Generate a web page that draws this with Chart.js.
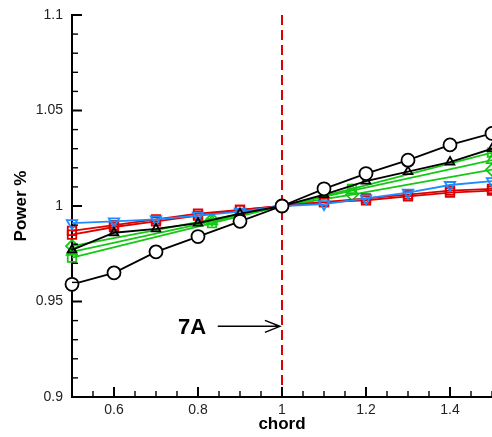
<!DOCTYPE html>
<html>
<head>
<meta charset="utf-8">
<script src="https://cdn.jsdelivr.net/npm/chart.js@4/dist/chart.umd.min.js"></script>
<style>
    body { margin: 0; background: #fff; }
    canvas { display: block; }
</style>
</head>
<body>
<canvas id="chart" width="492" height="437"></canvas>
<script>
const chordX = [0.5, 0.6, 0.7, 0.8, 0.9, 1.0, 1.1, 1.2, 1.3, 1.4, 1.5];
const circleSeries = [0.959, 0.965, 0.976, 0.984, 0.992, 1.0, 1.009, 1.017, 1.024, 1.032, 1.038];
const triangleSeries = [0.977, 0.986, 0.988, 0.991, 0.996, 1.0, 1.006, 1.013, 1.018, 1.023, 1.030];
const blueSeries = [0.991, 0.992, 0.993, 0.995, 0.997, 1.0, 1.001, 1.004, 1.007, 1.011, 1.013];
const redSeriesA = [0.987, 0.990, 0.993, 0.996, 0.998, 1.0, 1.002, 1.003, 1.005, 1.007, 1.008];
const redSeriesB = [0.985, 0.989, 0.992, 0.995, 0.998, 1.0, 1.002, 1.004, 1.006, 1.008, 1.009];

const greenX = [0.5, 0.8333, 1.0, 1.1667, 1.5];
const greenDiamond = [0.979, 0.993, 1.0, 1.006, 1.019];
const greenTriangle = [0.976, 0.992, 1.0, 1.008, 1.024];
const greenSquare = [0.973, 0.991, 1.0, 1.009, 1.028];

const xTicks = [0.6, 0.8, 1, 1.2, 1.4];
const yTicks = [0.9, 0.95, 1, 1.05, 1.1];

const markLineX = 1;
const noteText = "7A";
const noteX = 0.786;
const noteY = 0.937;
const arrowFromX = 0.847;
const arrowToX = 0.995;

const FONT = "'Liberation Sans', Arial, sans-serif";

function pairs(xs, ys) {
    return xs.map((x, i) => ({ x: x, y: ys[i] }));
}

function series(xs, ys, color, style, extra) {
    return Object.assign({
        data: pairs(xs, ys),
        borderColor: color,
        borderWidth: 1.8,
        pointStyle: style,
        pointRadius: 6,
        pointBorderColor: color,
        pointBorderWidth: 1.8,
        pointBackgroundColor: "rgba(0,0,0,0)",
        clip: false
    }, extra || {});
}

const green = "#14c814";
const greenMarks = ctx => (ctx.raw && ctx.raw.x === 1 ? 0 : 6);

// inward ticks, dashed marker line and the 7A arrow
const decorations = {
    id: "decorations",
    beforeDatasetsDraw(chart) {
        const ctx = chart.ctx;
        const area = chart.chartArea;
        const px = chart.scales.x.getPixelForValue(markLineX);
        ctx.save();
        ctx.strokeStyle = "#dd0000";
        ctx.lineWidth = 2;
        ctx.setLineDash([10, 5]);
        ctx.beginPath();
        ctx.moveTo(px, area.top);
        ctx.lineTo(px, area.bottom);
        ctx.stroke();
        ctx.restore();
    },
    afterDraw(chart) {
        const ctx = chart.ctx;
        const xs = chart.scales.x;
        const ys = chart.scales.y;
        const area = chart.chartArea;
        ctx.save();
        ctx.strokeStyle = "#000";

        for (let i = 0; i <= 20; i++) {
            const py = ys.getPixelForValue(0.9 + i * 0.01);
            const major = i % 5 === 0;
            ctx.lineWidth = major ? 2 : 1.4;
            ctx.beginPath();
            ctx.moveTo(area.left, py);
            ctx.lineTo(area.left + (major ? 10 : 6), py);
            ctx.stroke();
        }
        for (let i = 0; i <= 20; i++) {
            const px = xs.getPixelForValue(0.5 + i * 0.05);
            const major = (i - 2) % 4 === 0;
            ctx.lineWidth = major ? 2 : 1.4;
            ctx.beginPath();
            ctx.moveTo(px, area.bottom);
            ctx.lineTo(px, area.bottom - (major ? 10 : 6));
            ctx.stroke();
        }

        const ay = ys.getPixelForValue(noteY);
        const ax0 = xs.getPixelForValue(arrowFromX);
        const ax1 = xs.getPixelForValue(arrowToX);
        ctx.lineWidth = 1.5;
        ctx.beginPath();
        ctx.moveTo(ax0, ay);
        ctx.lineTo(ax1, ay);
        ctx.moveTo(ax1 - 15, ay - 6);
        ctx.lineTo(ax1, ay);
        ctx.lineTo(ax1 - 15, ay + 6);
        ctx.stroke();

        ctx.fillStyle = "#000";
        ctx.font = "bold 22px " + FONT;
        ctx.textAlign = "center";
        ctx.textBaseline = "middle";
        ctx.fillText(noteText, xs.getPixelForValue(noteX), ay + 2);
        ctx.restore();
    }
};

new Chart(document.getElementById("chart").getContext("2d"), {
    type: "line",
    data: {
        datasets: [
            series(chordX, circleSeries, "#000", "circle", { pointRadius: 6.5, pointBackgroundColor: "#fff", order: 0 }),
            series(chordX, triangleSeries, "#000", "triangle", { pointRadius: 5, order: 1 }),
            series(chordX, blueSeries, "#1e8cff", "triangle", { pointRadius: 6, pointRotation: 180, order: 2 }),
            series(chordX, redSeriesA, "#dd0000", "rect", { order: 3 }),
            series(chordX, redSeriesB, "#dd0000", "rect", { order: 4 }),
            series(greenX, greenDiamond, green, "rectRot", { pointRadius: greenMarks, order: 5 }),
            series(greenX, greenTriangle, green, "triangle", { pointRadius: greenMarks, order: 6 }),
            series(greenX, greenSquare, green, "rect", { pointRadius: greenMarks, order: 7 })
        ]
    },
    options: {
        responsive: false,
        animation: false,
        layout: { autoPadding: false, padding: { top: 15, right: 0, left: 0, bottom: 0 } },
        plugins: {
            legend: { display: false },
            tooltip: { enabled: false }
        },
        scales: {
            x: {
                type: "linear",
                min: 0.5,
                max: 1.5,
                afterBuildTicks: s => { s.ticks = xTicks.map(v => ({ value: v })); },
                afterFit: s => {
                    s.height = 40;
                    s.paddingLeft = 0;
                    s.paddingRight = 0;
                },
                grid: { display: false, drawTicks: false },
                border: { display: true, color: "#000", width: 2 },
                ticks: {
                    padding: 5,
                    color: "#222",
                    font: { family: FONT, size: 14 },
                    callback: v => String(v)
                },
                title: {
                    display: true,
                    text: "chord",
                    color: "#000",
                    padding: { top: 0, bottom: 2 },
                    font: { family: FONT, size: 17, weight: "bold" }
                }
            },
            y: {
                type: "linear",
                min: 0.9,
                max: 1.1,
                afterBuildTicks: s => { s.ticks = yTicks.map(v => ({ value: v })); },
                afterFit: s => {
                    s.width = 72;
                    s.paddingTop = 0;
                    s.paddingBottom = 0;
                },
                grid: { display: false, drawTicks: false },
                border: { display: true, color: "#000", width: 2 },
                ticks: {
                    padding: 9,
                    color: "#222",
                    font: { family: FONT, size: 14 },
                    callback: v => String(v)
                },
                title: {
                    display: true,
                    text: "Power %",
                    color: "#000",
                    padding: { top: 11, bottom: 0 },
                    font: { family: FONT, size: 17, weight: "bold" }
                }
            }
        }
    },
    plugins: [decorations]
});
</script>
</body>
</html>
